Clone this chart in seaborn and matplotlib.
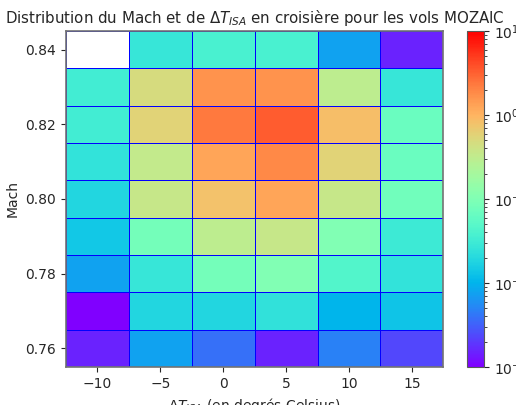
import numpy as np
import pandas as pd
import matplotlib
matplotlib.use("Agg")
import matplotlib.pyplot as plt
from matplotlib.colors import LogNorm
import seaborn as sns

# Bin centres
delta_t = [-10, -5, 0, 5, 10, 15]
mach = [0.76, 0.77, 0.78, 0.79, 0.80, 0.81, 0.82, 0.83, 0.84]

# Occurrence frequency (%) per Mach row (bottom to top), one value per ΔT_ISA column
freq_076 = [0.0015, 0.0076, 0.0038, 0.0015, 0.0048, 0.0023]
freq_077 = [0.0010, 0.019, 0.019, 0.024, 0.010, 0.013]
freq_078 = [0.0076, 0.027, 0.083, 0.10, 0.044, 0.025]
freq_079 = [0.014, 0.083, 0.30, 0.36, 0.10, 0.030]
freq_080 = [0.019, 0.36, 0.80, 1.26, 0.36, 0.075]
freq_081 = [0.025, 0.33, 1.26, 1.9, 0.58, 0.069]
freq_082 = [0.033, 0.58, 2.3, 3.3, 0.84, 0.069]
freq_083 = [0.033, 0.47, 1.6, 1.6, 0.30, 0.027]
freq_084 = [0.0, 0.027, 0.037, 0.037, 0.0076, 0.0015]

rows = [freq_076, freq_077, freq_078, freq_079, freq_080,
        freq_081, freq_082, freq_083, freq_084]

records = []
for m, row in zip(mach, rows):
    for t, f in zip(delta_t, row):
        records.append({"dT": t, "mach": m, "freq": f})
df = pd.DataFrame(records)

sns.set_style("ticks")
plt.rcParams["font.family"] = ["DejaVu Sans"]

fig = plt.figure(figsize=(5.16, 4.05), dpi=100)
ax = fig.add_axes([0.128, 0.0938, 0.731, 0.830])
cax = fig.add_axes([0.905, 0.0938, 0.033, 0.830])

sns.histplot(data=df, x="dT", y="mach", weights="freq",
             binwidth=(5, 0.01), binrange=((-12.5, 17.5), (0.755, 0.845)),
             cmap="rainbow", edgecolor="blue", linewidth=0.6,
             cbar=False, ax=ax)

mesh = ax.collections[0]
mesh.set_norm(LogNorm(vmin=1e-3, vmax=1e1))
cb = fig.colorbar(mesh, cax=cax)
cb.outline.set_edgecolor("0.35")

ax.set_xlim(-12.5, 17.5)
ax.set_ylim(0.755, 0.845)
ax.set_xticks([-10, -5, 0, 5, 10, 15])
ax.set_yticks([0.76, 0.78, 0.80, 0.82, 0.84])
for side in ax.spines.values():
    side.set_edgecolor("0.45")
    side.set_linewidth(1.2)
ax.set_title(r"Distribution du Mach et de $\Delta T_{ISA}$ en croisière pour les vols MOZAIC",
             fontsize=10.8)
ax.set_xlabel(r"$\Delta T_{ISA}$ (en degrés Celsius)")
ax.set_ylabel("Mach")

fig.savefig("out.png", dpi=100)
